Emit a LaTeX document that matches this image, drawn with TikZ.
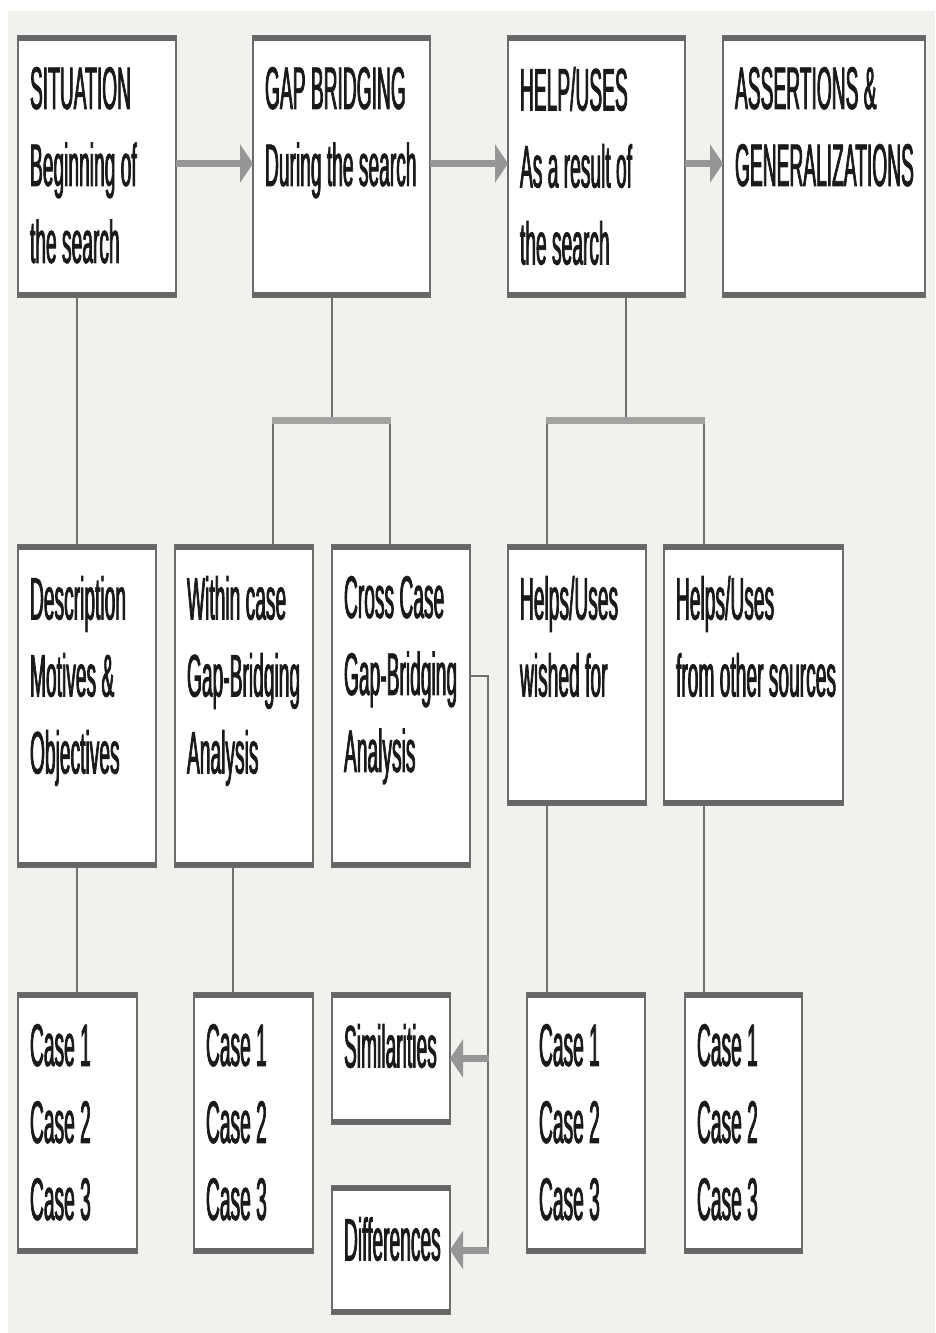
\documentclass[tikz,border=0pt]{standalone}
\usepackage{fontspec}
\setmainfont{Liberation Sans}[FakeStretch=0.32,FakeBold=1.2]
\usetikzlibrary{arrows.meta}
\definecolor{bgc}{HTML}{F1F1EE}
\definecolor{boxline}{HTML}{6C6C6C}
\definecolor{edgec}{HTML}{666666}
\definecolor{connc}{HTML}{707070}
\definecolor{barc}{HTML}{A2A2A0}
\definecolor{arrc}{HTML}{969696}
\definecolor{txtc}{HTML}{1A1A1A}
\tikzset{
  boxst/.style={draw=boxline, line width=1.8pt, fill=white, inner sep=0pt, outer sep=0pt, anchor=north west},
  thickedge/.style={draw=edgec, line width=5pt},
  txt/.style={inner sep=0pt, outer sep=0pt, align=left, anchor=north west, text=txtc,
              font=\fontsize{60}{77}\selectfont},
  conn/.style={draw=connc, line width=2pt},
  bar/.style={draw=barc, line width=7pt},
  arr/.style={draw=arrc, line width=7pt, -{Triangle[length=13pt,width=38pt]}},
}
\newcommand\mkbox[6]{%
  \node[boxst, minimum width={#4-#2}, minimum height={#5-#3}] (#1) at (#2,#3) {};
  \draw[thickedge] ([yshift=-2.5pt]#1.north west) -- ([yshift=-2.5pt]#1.north east);
  \draw[thickedge] ([yshift=2.5pt]#1.south west) -- ([yshift=2.5pt]#1.south east);
  \node[txt] (#1-t) at ([xshift=12pt,yshift=-31pt]#1.north west) {#6};
}
\begin{document}
\begin{tikzpicture}[x=1pt,y=-1pt]
\useasboundingbox (0,0) rectangle (935,1333);
\fill[bgc] (8,11) rectangle (935,1333);

% top row
\mkbox{sit}{18}{36}{176}{297}{SITUATION\\Beginning of\\the search}
\mkbox{gap}{253}{36}{430}{297}{GAP BRIDGING\\During the search}
\mkbox{help}{508}{36}{685}{297}{HELP/USES\\As a result of\\the search}
\mkbox{ass}{723}{36}{925}{297}{ASSERTIONS \&\\GENERALIZATIONS}

% middle row
\mkbox{desc}{18}{545}{156}{867}{Description\\Motives \&\\Objectives}
\mkbox{wc}{175}{545}{313}{867}{Within case\\Gap-Bridging\\Analysis}
\mkbox{cc}{332}{545}{470}{867}{Cross Case\\Gap-Bridging\\Analysis}
\mkbox{hw}{508}{545}{646}{805}{Helps/Uses\\wished for}
\mkbox{ho}{664}{545}{843}{805}{Helps/Uses\\from other sources}

% bottom row
\mkbox{c1}{18}{993}{137}{1253}{Case 1\\Case 2\\Case 3}
\mkbox{c2}{194}{993}{313}{1253}{Case 1\\Case 2\\Case 3}
\mkbox{sim}{332}{993}{450}{1124}{Similarities}
\mkbox{dif}{332}{1186}{450}{1314}{Differences}
\mkbox{c4}{527}{993}{645}{1253}{Case 1\\Case 2\\Case 3}
\mkbox{c5}{685}{993}{802}{1253}{Case 1\\Case 2\\Case 3}

% top arrows
\draw[arr] ([yshift=3pt]sit.east) -- ([yshift=3pt]gap.west);
\draw[arr] ([yshift=3pt]gap.east) -- ([yshift=3pt]help.west);
\draw[arr] ([yshift=3pt]help.east) -- ([yshift=3pt]ass.west);

% situation column
\coordinate (sx) at (77,420);
\draw[conn] (sit.south -| sx) -- (desc.north -| sx);
\draw[conn] (desc.south -| sx) -- (c1.north -| sx);

% gap bridging bracket
\coordinate (g0) at (332,420);
\coordinate (gl) at (273,420);
\coordinate (gr) at (390,420);
\draw[conn] (gap.south -| g0) -- (g0);
\draw[conn] (gl) -- (wc.north -| gl);
\draw[conn] (gr) -- (cc.north -| gr);
\draw[bar] ([xshift=-1pt]gl) -- ([xshift=1pt]gr);

% help bracket
\coordinate (h0) at (626,420);
\coordinate (hl) at (547,420);
\coordinate (hr) at (704,420);
\draw[conn] (help.south -| h0) -- (h0);
\draw[conn] (hl) -- (hw.north -| hl);
\draw[conn] (hr) -- (ho.north -| hr);
\draw[bar] ([xshift=-1pt]hl) -- ([xshift=1pt]hr);

% within case to cases
\coordinate (wx) at (233,930);
\draw[conn] (wc.south -| wx) -- (c2.north -| wx);
% helps to cases
\draw[conn] (hw.south -| hl) -- (c4.north -| hl);
\draw[conn] (ho.south -| hr) -- (c5.north -| hr);

% cross case to similarities / differences
\coordinate (cj) at (488,676);
\draw[conn] (cc.east |- cj) -- (cj) -- (cj |- dif.east);
\draw[arr] ([xshift=1pt]cj |- sim.east) -- (sim.east);
\draw[arr] ([xshift=1pt]cj |- dif.east) -- (dif.east);
\end{tikzpicture}
\end{document}
